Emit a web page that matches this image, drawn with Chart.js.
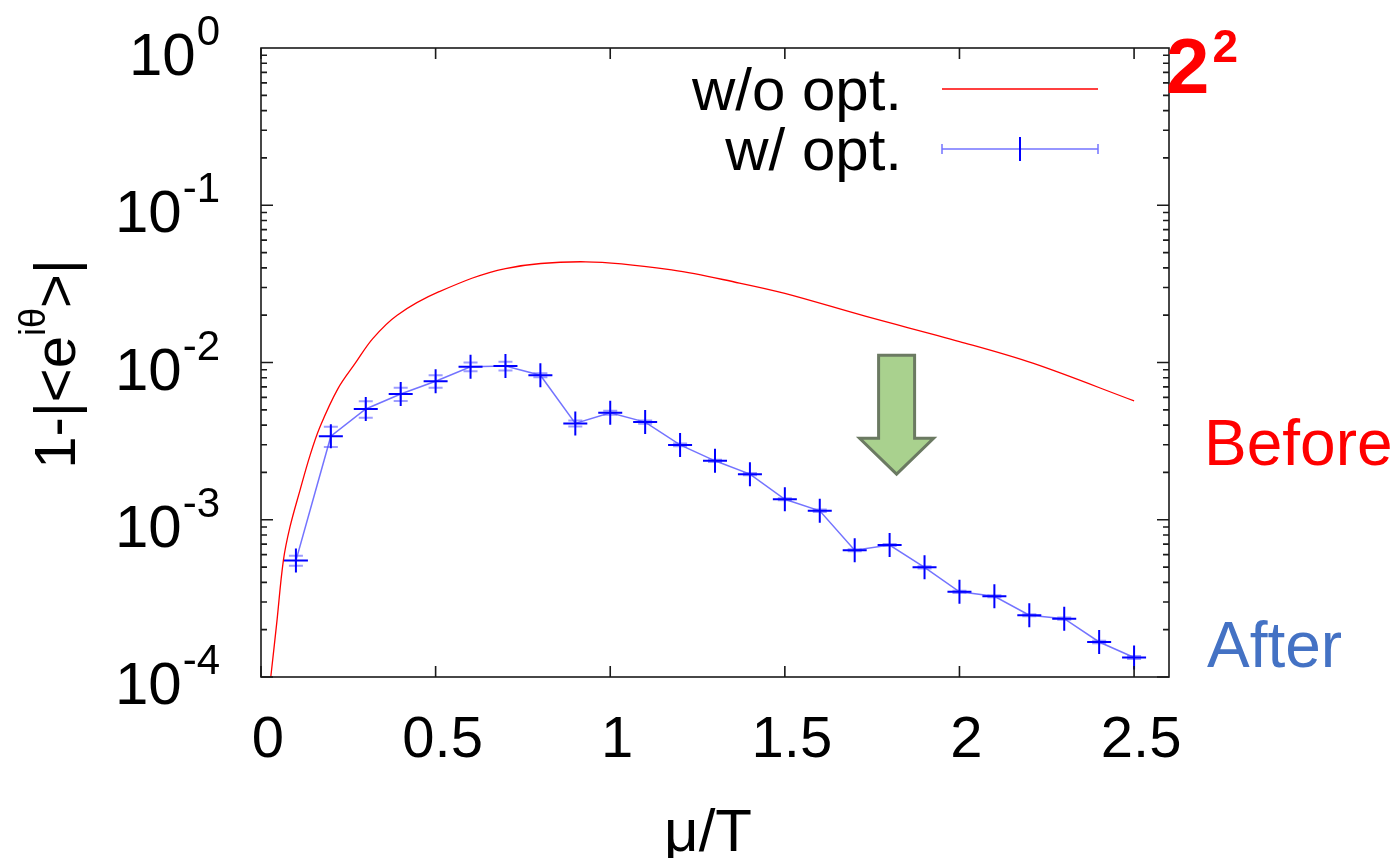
<!DOCTYPE html>
<html>
<head>
<meta charset="utf-8">
<script src="https://cdn.jsdelivr.net/npm/chart.js@4/dist/chart.umd.min.js"></script>
<style>
  html, body { margin: 0; padding: 0; background: #fff; }
  #wrap { width: 1398px; height: 858px; position: relative; }
</style>
</head>
<body>
<div id="wrap"><canvas id="chart"></canvas></div>
<script>
// w/o opt. curve
const redX = [0.028, 0.045, 0.064, 0.083, 0.112, 0.14, 0.169, 0.22, 0.27, 0.32, 0.39, 0.51, 0.70, 0.93, 1.18, 1.37, 1.5, 1.73, 2.0, 2.21, 2.5];
const redY = [1.0e-4, 2.2e-4, 5.5e-4, 9.0e-4, 1.55e-3, 2.55e-3, 3.9e-3, 6.8e-3, 9.9e-3, 1.42e-2, 2.0e-2, 2.82e-2, 3.96e-2, 4.37e-2, 3.87e-2, 3.2e-2, 2.75e-2, 1.97e-2, 1.36e-2, 9.9e-3, 5.7e-3];

// w/ opt. points with error bars
const optX = [0.1, 0.2, 0.3, 0.4, 0.5, 0.6, 0.7, 0.8, 0.9, 1.0, 1.1, 1.2, 1.3, 1.4, 1.5, 1.6, 1.7, 1.8, 1.9, 2.0, 2.1, 2.2, 2.3, 2.4, 2.5];
const optY = [5.5e-4, 3.4e-3, 5.06e-3, 6.3e-3, 7.6e-3, 9.4e-3, 9.5e-3, 8.3e-3, 4.1e-3, 4.79e-3, 4.18e-3, 2.99e-3, 2.37e-3, 1.95e-3, 1.35e-3, 1.14e-3, 6.4e-4, 6.9e-4, 4.98e-4, 3.48e-4, 3.26e-4, 2.47e-4, 2.35e-4, 1.67e-4, 1.33e-4];
const optErr = [4e-5, 5e-4, 6e-4, 6e-4, 7e-4, 6e-4, 6e-4, 2.5e-4, 1.8e-4, 1.4e-4, 1e-4, 6e-5, 4e-5, 3e-5, 2e-5, 2e-5, 1e-5, 1e-5, 8e-6, 6e-6, 5e-6, 4e-6, 4e-6, 3e-6, 3e-6];

const xTicks = [0, 0.5, 1, 1.5, 2, 2.5];
const xTickLabels = ['0', '0.5', '1', '1.5', '2', '2.5'];
const yTicks = [1, 0.1, 0.01, 0.001, 0.0001];
const yTickExps = ['0', '-1', '-2', '-3', '-4'];

const seriesNames = ['w/o opt.', 'w/ opt.'];
const arrowAt = { x: 1.82, top: 0.0111, base: 0.0033, tip: 0.00195 };

const FONT = '"Liberation Sans", Arial, sans-serif';
const RED = '#ff0000';
const BLUE = '#0000ff';
const BLUE_LINE = 'rgba(80,80,255,0.8)';

function txt(ctx, s, x, y, size, color, align, bold) {
    ctx.font = (bold ? 'bold ' : '') + size + 'px ' + FONT;
    ctx.fillStyle = color;
    ctx.textAlign = align || 'left';
    ctx.textBaseline = 'alphabetic';
    ctx.fillText(s, x, y);
    return ctx.measureText(s).width;
}

const errorBars = {
    id: 'errorBars',
    beforeDatasetsDraw(chart) {
        const { ctx, scales: { x, y } } = chart;
        ctx.save();
        ctx.strokeStyle = 'rgba(60,60,255,0.5)';
        ctx.lineWidth = 2;
        optX.forEach((v, i) => {
            const px = x.getPixelForValue(v);
            const hi = y.getPixelForValue(optY[i] + optErr[i]);
            const lo = y.getPixelForValue(optY[i] - optErr[i]);
            ctx.beginPath();
            ctx.moveTo(px, hi); ctx.lineTo(px, lo);
            ctx.moveTo(px - 7, hi); ctx.lineTo(px + 7, hi);
            ctx.moveTo(px - 7, lo); ctx.lineTo(px + 7, lo);
            ctx.stroke();
        });
        ctx.restore();
    }
};

const frame = {
    id: 'frame',
    afterDraw(chart) {
        const { ctx, chartArea: a, scales: { x, y } } = chart;
        ctx.save();

        // arrow
        const ax = x.getPixelForValue(arrowAt.x);
        const at = y.getPixelForValue(arrowAt.top);
        const ab = y.getPixelForValue(arrowAt.base);
        const ap = y.getPixelForValue(arrowAt.tip);
        ctx.beginPath();
        ctx.moveTo(ax - 18, at); ctx.lineTo(ax + 18, at); ctx.lineTo(ax + 18, ab);
        ctx.lineTo(ax + 37, ab); ctx.lineTo(ax, ap); ctx.lineTo(ax - 37, ab);
        ctx.lineTo(ax - 18, ab); ctx.closePath();
        ctx.fillStyle = '#a9d18e';
        ctx.fill();
        ctx.strokeStyle = '#6b7a62';
        ctx.lineWidth = 3;
        ctx.stroke();

        // box + inward ticks
        ctx.strokeStyle = '#1a1a1a';
        ctx.lineWidth = 1.6;
        ctx.strokeRect(a.left, a.top, a.right - a.left, a.bottom - a.top);
        ctx.beginPath();
        xTicks.forEach(v => {
            const px = x.getPixelForValue(v);
            ctx.moveTo(px, a.bottom); ctx.lineTo(px, a.bottom - 11);
            ctx.moveTo(px, a.top); ctx.lineTo(px, a.top + 11);
        });
        for (let e = -4; e < 0; e++) {
            for (let m = 1; m <= 9; m++) {
                const py = y.getPixelForValue(m * Math.pow(10, e));
                const len = m === 1 ? 12 : 6;
                ctx.moveTo(a.left, py); ctx.lineTo(a.left + len, py);
                ctx.moveTo(a.right, py); ctx.lineTo(a.right - len, py);
            }
        }
        ctx.stroke();

        // x tick labels
        xTicks.forEach((v, i) => {
            txt(ctx, xTickLabels[i], x.getPixelForValue(v) + 7, 757, 58, '#000', 'center');
        });
        // y tick labels 10^n
        yTicks.forEach((v, i) => {
            const py = y.getPixelForValue(v);
            const w = txt(ctx, yTickExps[i], 220, py - 3, 42, '#000', 'right');
            txt(ctx, '10', 220 - w - 1, py + 27, 60, '#000', 'right');
        });

        // axis titles
        txt(ctx, '\u03bc/T', 708, 851, 60, '#000', 'center');
        ctx.save();
        ctx.translate(75, 364);
        ctx.rotate(-Math.PI / 2);
        ctx.font = '58px ' + FONT;
        const w1 = ctx.measureText('1-|<e').width;
        ctx.font = '36px ' + FONT;
        const w2 = ctx.measureText('i\u03b8').width;
        ctx.font = '58px ' + FONT;
        const w3 = ctx.measureText('>|').width;
        let sx = -(w1 + w2 + w3) / 2;
        txt(ctx, '1-|<e', sx, 0, 58, '#000', 'left');
        txt(ctx, 'i\u03b8', sx + w1, -30, 36, '#000', 'left');
        txt(ctx, '>|', sx + w1 + w2, 0, 58, '#000', 'left');
        ctx.restore();

        // legend
        txt(ctx, seriesNames[0], 902, 110, 60, '#000', 'right');
        txt(ctx, seriesNames[1], 902, 170, 60, '#000', 'right');
        ctx.lineWidth = 1.3;
        ctx.strokeStyle = RED;
        ctx.beginPath(); ctx.moveTo(942, 89); ctx.lineTo(1098, 89); ctx.stroke();
        ctx.strokeStyle = BLUE_LINE;
        ctx.lineWidth = 1.5;
        ctx.beginPath();
        ctx.moveTo(942, 149); ctx.lineTo(1098, 149);
        ctx.moveTo(942, 144); ctx.lineTo(942, 154);
        ctx.moveTo(1098, 144); ctx.lineTo(1098, 154);
        ctx.stroke();
        ctx.strokeStyle = BLUE;
        ctx.lineWidth = 2;
        ctx.beginPath(); ctx.moveTo(1020, 137); ctx.lineTo(1020, 161); ctx.stroke();

        // slide annotations
        const w22 = txt(ctx, '2', 1166, 93, 78, RED, 'left', true);
        txt(ctx, '2', 1166 + w22 + 3, 62, 46, RED, 'left', true);
        txt(ctx, 'Before', 1204, 465, 64, RED, 'left');
        txt(ctx, 'After', 1207, 667, 64, '#4472c4', 'left');

        ctx.restore();
    }
};

const ctx = document.getElementById('chart').getContext('2d');
new Chart(ctx, {
    type: 'scatter',
    data: {
        datasets: [
            {
                label: seriesNames[0],
                data: redX.map((v, i) => ({ x: v, y: redY[i] })),
                showLine: true,
                borderColor: RED,
                borderWidth: 1.3,
                pointRadius: 0,
                tension: 0.35
            },
            {
                label: seriesNames[1],
                data: optX.map((v, i) => ({ x: v, y: optY[i] })),
                showLine: true,
                borderColor: BLUE_LINE,
                borderWidth: 1.5,
                pointStyle: 'cross',
                pointRadius: 12,
                pointBorderColor: BLUE,
                pointBorderWidth: 2,
                pointBackgroundColor: BLUE
            }
        ]
    },
    options: {
        responsive: true,
        maintainAspectRatio: false,
        animation: false,
        layout: { padding: { top: 48, right: 229, left: 0, bottom: 0 } },
        plugins: { legend: { display: false }, tooltip: { enabled: false } },
        scales: {
            x: {
                type: 'linear', min: 0, max: 2.6,
                grid: { display: false }, border: { display: false },
                ticks: { display: false },
                afterFit: s => { s.height = 181; }
            },
            y: {
                type: 'logarithmic', min: 1e-4, max: 1,
                grid: { display: false }, border: { display: false },
                ticks: { display: false },
                afterFit: s => { s.width = 261; }
            }
        }
    },
    plugins: [errorBars, frame]
});
</script>
</body>
</html>
